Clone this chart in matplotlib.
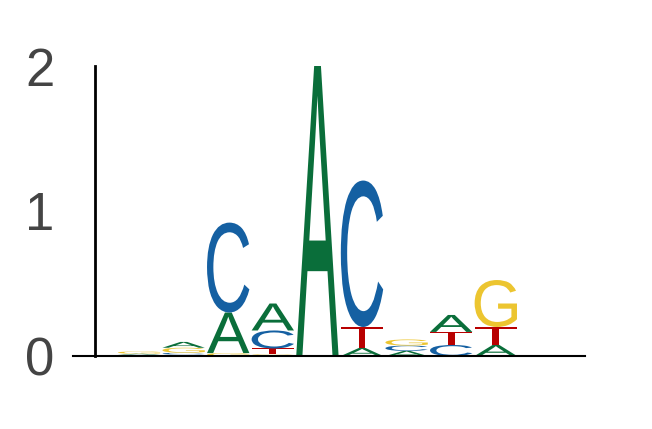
import matplotlib
matplotlib.use("Agg")
import matplotlib.pyplot as plt
from matplotlib.textpath import TextPath
from matplotlib.font_manager import FontProperties
from matplotlib.patches import PathPatch
from matplotlib.transforms import Affine2D

# --- data: letter heights (bits) per position ---
positions = [0, 1, 2, 3, 4, 5, 6, 7, 8]
A = [0.008, 0.040, 0.280, 0.186, 2.000, 0.055, 0.035, 0.117, 0.076]
C = [0.005, 0.012, 0.620, 0.124, 0.000, 1.010, 0.037, 0.076, 0.000]
G = [0.015, 0.035, 0.020, 0.012, 0.000, 0.000, 0.042, 0.000, 0.324]
T = [0.003, 0.010, 0.000, 0.040, 0.000, 0.145, 0.000, 0.090, 0.124]
yticks = [0, 1, 2]

colors = {'A': '#0a6e3a', 'C': '#1560a2', 'G': '#ecc530', 'T': '#b80000'}
font = FontProperties(family='Liberation Sans')
width = 0.95

fig = plt.figure(figsize=(6.52, 4.29), dpi=100)
ax = fig.add_axes([73 / 652, 73 / 429, 512 / 652, 290 / 429])


def draw_letter(ch, x, bottom, height):
    path = TextPath((0, 0), ch, size=1, prop=font)
    bb = path.get_extents()
    tr = (Affine2D().translate(-bb.x0, -bb.y0)
          .scale(width / bb.width, height / bb.height)
          .translate(x - width / 2, bottom))
    ax.add_patch(PathPatch(tr.transform_path(path), facecolor=colors[ch],
                           edgecolor='none'))


for i, x in enumerate(positions):
    col = [('A', A[i]), ('C', C[i]), ('G', G[i]), ('T', T[i])]
    col = sorted([c for c in col if c[1] > 0], key=lambda c: c[1])
    bottom = 0
    for ch, h in col:
        draw_letter(ch, x, bottom, h)
        bottom += h

ax.set_xlim(-1.48, 10.0)
ax.set_ylim(0, 2)

for s in ['top', 'right']:
    ax.spines[s].set_visible(False)
ax.spines['left'].set_position(('outward', -22 * 72 / 100))
ax.spines['left'].set_bounds(0, 2)
ax.spines['left'].set_linewidth(2)
ax.spines['bottom'].set_linewidth(1.5)

ax.set_xticks([])
ax.set_yticks(yticks)
ax.set_yticklabels([str(t) for t in yticks], fontsize=38,
                   fontfamily='Liberation Sans', color='#444444')
ax.tick_params(axis='y', length=0, pad=29)

fig.savefig('out.png', dpi=100)
